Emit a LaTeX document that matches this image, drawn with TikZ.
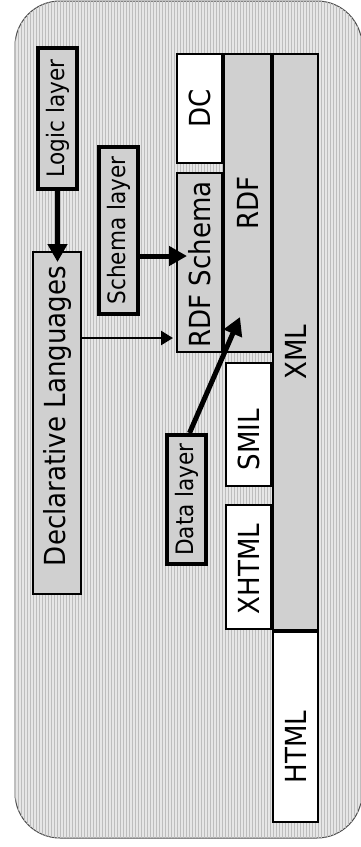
\documentclass[tikz,border=0pt]{standalone}
\usepackage{fontspec}
\newfontfamily\layerfont{DejaVu Sans Condensed}
\usetikzlibrary{arrows.meta,patterns,calc}
\definecolor{stackgray}{HTML}{D0D0D0}
\definecolor{panelgray}{HTML}{E6E6E6}
\definecolor{stripegray}{HTML}{BDBDBD}

\begin{document}
\begin{tikzpicture}[x=1pt,y=-1pt,
  stack/.style={draw,line width=2pt,fill=stackgray,inner sep=0pt},
  layerbox/.style={stack,line width=4pt},
  bigtxt/.style={rotate=90,inner sep=0pt,font=\layerfont\fontsize{29}{33}\selectfont},
  smalltxt/.style={rotate=90,inner sep=0pt,font=\layerfont\fontsize{24}{28}\selectfont},
  bigarrow/.style={line width=5pt,-{Triangle[length=18pt,width=19pt]}},
  thinarrow/.style={line width=2.5pt,-{Triangle[length=12pt,width=14pt]}}]
\useasboundingbox (0,0) rectangle (360,847);
% panel
\draw[black!70,line width=1pt,fill=panelgray,rounded corners=45pt] (15,1) rectangle (362,838);
\fill[pattern=vertical lines,pattern color=stripegray,rounded corners=45pt] (15,1) rectangle (362,838);
% language stack
\foreach \name/\cx/\cy/\w/\h/\col in {dc/199.5/108.5/45/109/white,
    rdfs/199.5/262.5/45/179/stackgray, rdf/247.5/203/47/298/stackgray,
    xml/295.5/342/45/576/stackgray, html/295.5/727/45/190/white,
    smil/248.5/424.5/45/123/white, xhtml/248.5/567/45/124/white} {
  \node[stack,fill=\col,minimum width=\w pt,minimum height=\h pt] (\name) at (\cx,\cy) {};
}
\foreach \name/\dy/\lab in {dc/0/DC, rdfs/2/RDF Schema, rdf/0/RDF, xml/10/XML,
    html/20/HTML, smil/15/SMIL, xhtml/2/XHTML} {
  \node[bigtxt] (\name-lab) at ($(\name)+(0,\dy)$) {\lab};
}
% declarative languages
\node[stack,minimum width=48pt,minimum height=342pt] (decl) at (57,423) {};
\node[bigtxt] (decl-lab) at ($(decl)+(0,-7)$) {Declarative Languages};
% layer labels
\node[layerbox,minimum width=39pt,minimum height=141pt] (logic) at (57.5,118.5) {};
\node[layerbox,minimum width=39pt,minimum height=167pt] (schema) at (118.5,230.5) {};
\node[layerbox,minimum width=39pt,minimum height=129pt] (data) at (186.5,499.5) {};
\node[smalltxt] (logic-lab) at (logic) {Logic layer};
\node[smalltxt] (schema-lab) at (schema) {Schema layer};
\node[smalltxt] (data-lab) at (data) {Data layer};
% arrows
\coordinate (rdfpt) at (240,317);
\draw[bigarrow,shorten >=-11pt] (logic.south) -- (logic.south |- decl.north);
\draw[bigarrow,shorten >=-11pt] (schema.east |- 0,256) -- (rdfs.west |- 0,256);
\draw[thinarrow,shorten >=3pt] (decl.east |- 0,338) -- (rdfs.west |- 0,338);
\draw[bigarrow] ([xshift=3pt]data.north) -- (rdfpt);
\end{tikzpicture}
\end{document}
